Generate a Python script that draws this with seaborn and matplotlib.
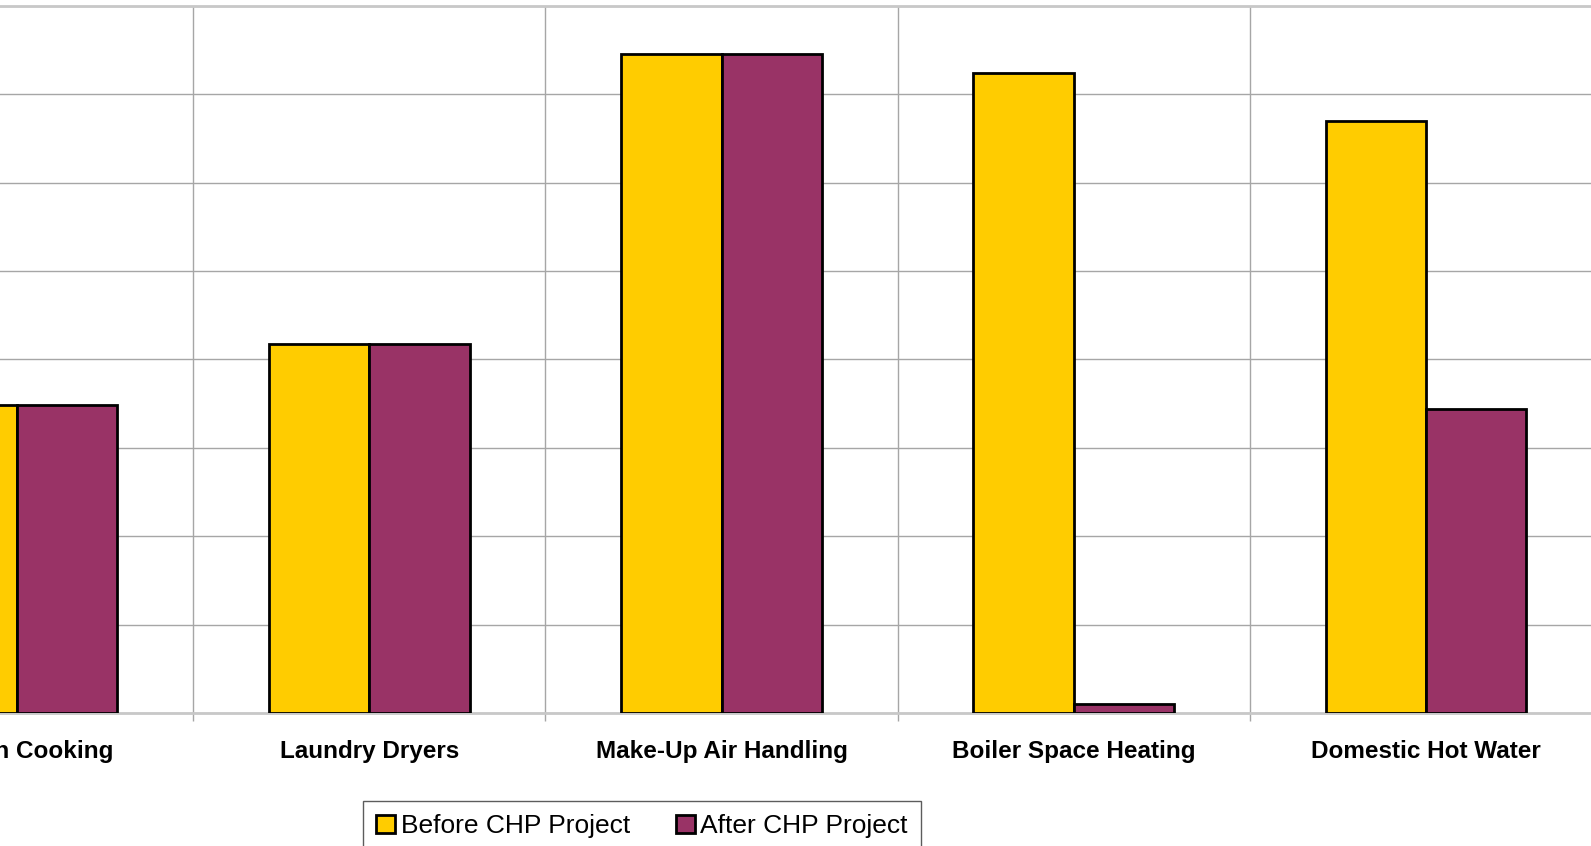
import matplotlib
matplotlib.use("Agg")
import matplotlib.pyplot as plt
import seaborn as sns
import pandas as pd
import numpy as np

# Thermal end uses and relative load before/after the CHP project
categories = ["Kitchen Cooking", "Laundry Dryers", "Make-Up Air Handling",
              "Boiler Space Heating", "Domestic Hot Water"]
before_chp = [3.48, 4.17, 7.46, 7.24, 6.70]
after_chp = [3.48, 4.17, 7.46, 0.10, 3.44]
series_names = ["Before CHP Project", "After CHP Project"]
series_colors = ["#FFCC00", "#993366"]

df = pd.DataFrame({
    "End Use": categories * 2,
    "Load": before_chp + after_chp,
    "Period": [series_names[0]] * len(categories) + [series_names[1]] * len(categories),
})

sns.set_theme(style="white")
plt.rcParams["font.family"] = ["Liberation Sans", "DejaVu Sans"]
plt.rcParams["text.color"] = "black"

fig = plt.figure(figsize=(15.91, 8.46), dpi=100)
W, H = 1591, 846
# plot area runs slightly past the figure edges on left and right
left_px, right_px, top_px, bottom_px = -159, 1602, 6, 713
ax = fig.add_axes([left_px / W, 1 - bottom_px / H,
                   (right_px - left_px) / W, (bottom_px - top_px) / H])

sns.barplot(data=df, x="End Use", y="Load", hue="Period",
            palette=series_colors, width=0.57, gap=0,
            edgecolor="black", linewidth=2.0, saturation=1, ax=ax, zorder=3)

ax.set_xlim(-0.5, len(categories) - 0.5)
ax.set_ylim(0, 8)

# gridlines
ax.set_yticks(np.arange(0, 9, 1))
ax.tick_params(axis="y", left=False, labelleft=False)
ax.yaxis.grid(True, color="#a6a6a6", linewidth=1.0, zorder=0)
ax.set_xticks(np.arange(-0.5, len(categories), 1), minor=True)
ax.xaxis.grid(True, which="minor", color="#a6a6a6", linewidth=1.0, zorder=0)
ax.xaxis.grid(False, which="major")
ax.tick_params(axis="x", which="major", length=0, pad=19.5)
ax.tick_params(axis="x", which="minor", length=6, width=1.0, color="#a6a6a6",
               direction="out", bottom=True)
ax.set_axisbelow(True)

for lbl in ax.get_xticklabels():
    lbl.set_fontweight("bold")
    lbl.set_fontsize(17.5)
    lbl.set_color("black")

ax.set_xlabel("")
ax.set_ylabel("")

for side in ["left", "right"]:
    ax.spines[side].set_visible(False)
for side in ["top", "bottom"]:
    ax.spines[side].set_visible(True)
    ax.spines[side].set_color("#c8c8c8")
    ax.spines[side].set_linewidth(2.0)
ax.spines["bottom"].set_zorder(1)

handles, labels = ax.get_legend_handles_labels()
ax.legend_.remove()
for h in handles:
    h.set_linewidth(2.0)
leg = fig.legend(handles, labels, loc="upper center",
                 bbox_to_anchor=(642 / W, 1 - 801 / H), bbox_transform=fig.transFigure,
                 ncol=2, frameon=True, fancybox=False, fontsize=19,
                 handlelength=0.72, handleheight=0.72, handletextpad=0.2,
                 columnspacing=1.75, borderpad=0.5, borderaxespad=0)
leg.get_frame().set_edgecolor("#333333")
leg.get_frame().set_linewidth(1.0)
for t in leg.get_texts():
    t.set_color("black")

fig.savefig("out.png", dpi=100)
